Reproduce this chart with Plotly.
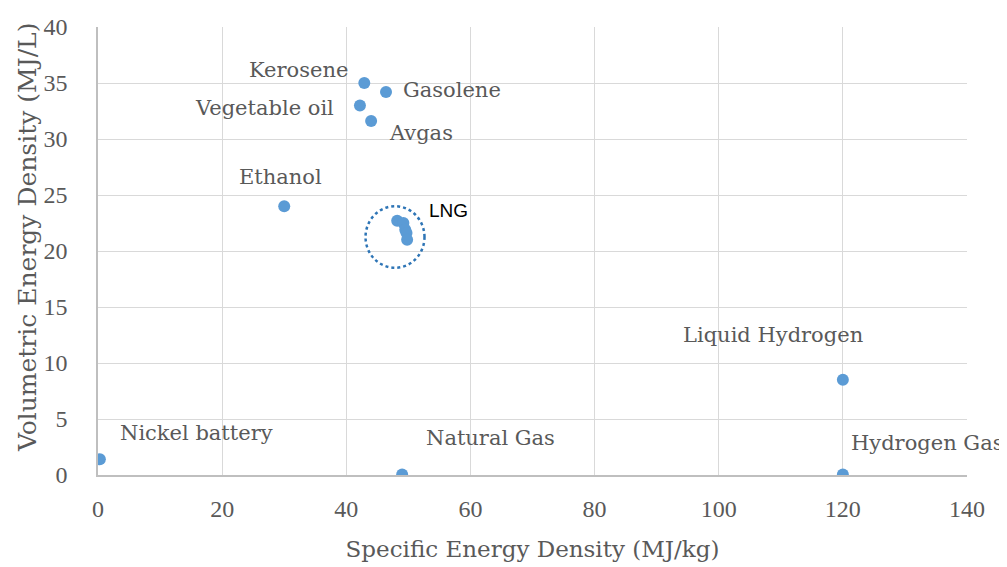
import plotly.graph_objects as go

names = ["Nickel battery", "Natural Gas", "Hydrogen Gas", "Liquid Hydrogen", "Ethanol",
         "Kerosene", "Gasolene", "Vegetable oil", "Avgas"]
specific = [0.3, 49.0, 120.0, 120.0, 30.0, 42.9, 46.4, 42.2, 44.0]
volumetric = [1.4, 0.04, 0.04, 8.5, 24.0, 35.0, 34.2, 33.0, 31.6]
# label offsets in pixels (xshift, yshift, xanchor)
label_pos = [(18, 26, "left"), (22, 37, "left"), (6, 32, "left"), (-162, 45, "left"),
             (-47, 29, "left"), (-14, 13, "right"), (15, 2, "left"), (-24, -3, "right"), (16, -12, "left")]

lng_specific = [48.2, 49.2, 49.5, 49.7, 49.8]
lng_volumetric = [22.7, 22.5, 21.9, 21.6, 21.0]

x_title = "Specific Energy Density (MJ/kg)"
y_title = "Volumetric Energy Density (MJ/L)"

color = "#5B9BD5"
serif = "Palatino Linotype, Book Antiqua, Palatino, DejaVu Serif, serif"
tickserif = "Liberation Serif, Times New Roman, serif"
txt = "#595959"

fig = go.Figure()
fig.add_trace(go.Scatter(x=specific + lng_specific, y=volumetric + lng_volumetric, mode="markers",
                         marker=dict(color=color, size=12), hoverinfo="x+y"))

for n, x, y, (dx, dy, anc) in zip(names, specific, volumetric, label_pos):
    fig.add_annotation(x=x, y=y, text=n, showarrow=False, xshift=dx, yshift=dy, xanchor=anc,
                       font=dict(family=serif, size=21, color=txt))

fig.add_shape(type="circle", xref="x", yref="y", x0=43.1, x1=52.6, y0=18.5, y1=24.0,
              line=dict(color="#2E75B6", width=2.5, dash="dot"))
fig.add_annotation(x=49.5, y=22.7, text="LNG", showarrow=False, xshift=22, yshift=10, xanchor="left",
                   font=dict(family="Liberation Sans, Arial, sans-serif", size=19, color="black"))

# y-axis title as rotated annotation (sits slightly below the plot centre, as in the reference)
fig.add_annotation(xref="paper", yref="paper", x=0, y=0.531, xshift=-71, text=y_title, textangle=-90,
                   showarrow=False, xanchor="center", yanchor="middle",
                   font=dict(family=serif, size=25, color=txt))

fig.update_layout(
    width=1007, height=567,
    margin=dict(l=90, r=48, t=19, b=100, autoexpand=False),
    plot_bgcolor="white", paper_bgcolor="white",
    showlegend=False,
    xaxis=dict(range=[0, 140], dtick=20, tick0=0, showgrid=True, gridcolor="#D9D9D9", gridwidth=1.3,
               zeroline=False, showline=True, linecolor="#BFBFBF", linewidth=1.5, automargin=False,
               tickfont=dict(family=tickserif, size=24, color=txt), ticklabelstandoff=11,
               title=dict(text=x_title, font=dict(family=serif, size=23, color=txt), standoff=20)),
    yaxis=dict(range=[0, 40], dtick=5, tick0=0, showgrid=True, gridcolor="#D9D9D9", gridwidth=1.3,
               zeroline=False, showline=True, linecolor="#BFBFBF", linewidth=1.5, automargin=False,
               tickfont=dict(family=tickserif, size=24, color=txt), ticklabelstandoff=24),
)

fig.write_html("out.html")
